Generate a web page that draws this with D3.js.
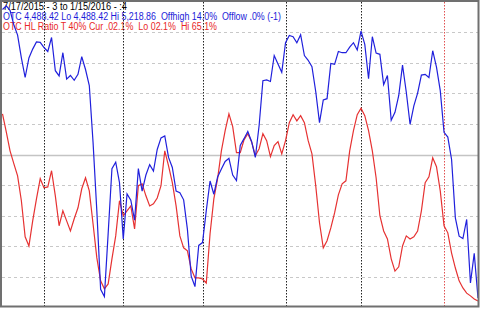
<!DOCTYPE html>
<html>
<head>
<meta charset="utf-8">
<script src="https://cdn.jsdelivr.net/npm/d3@7"></script>
<style>
  body { margin: 0; background: #fff; }
  svg { display: block; }
</style>
</head>
<body>
<div class="chart"></div>
<script>
// OTC close, one value per trading day, 7/17/2015 .. 1/15/2016
const otc = [
  5210, 5219, 5208, 5172, 5146, 5089, 5040, 5089, 5111, 5129,
  5128, 5115, 5105, 5140, 5057, 5044, 5102, 5036, 5045, 5033,
  5048, 5092, 5060, 5020, 4877, 4706, 4510, 4492, 4650, 4812,
  4828, 4777, 4636, 4749, 4733, 4683, 4812, 4756, 4796, 4822,
  4806, 4860, 4889, 4894, 4840, 4815, 4756, 4752, 4734, 4660,
  4543, 4517, 4620, 4627, 4707, 4781, 4748, 4791, 4811, 4830,
  4838, 4796, 4782, 4870, 4887, 4905, 4880, 4840, 4920, 5032,
  5034, 5030, 5095, 5074, 5053, 5127, 5145, 5142, 5127, 5147,
  5095, 5083, 5067, 5005, 4927, 4984, 4987, 5075, 5073, 5105,
  5102, 5102, 5116, 5127, 5109, 5156, 5123, 5037, 5142, 5101,
  5098, 5022, 5045, 4933, 4953, 4995, 5071, 5003, 4923, 4969,
  5001, 5046, 5048, 5040, 5107, 5066, 5007, 4903, 4891, 4835,
  4689, 4643, 4637, 4685, 4526, 4600, 4488.42
];

// HL ratio (%), same days
const hlRatio = [
  63.3, 57.4, 51.2, 47.0, 43.0, 34.9, 23.1, 20.1, 28.3, 35.5,
  42.1, 39.1, 39.4, 44.7, 36.5, 26.7, 31.6, 28.3, 25.0, 29.0,
  32.6, 38.8, 42.4, 38.1, 27.3, 16.2, 8.7, 6.1, 7.7, 15.9,
  23.4, 34.9, 30.0, 31.6, 33.2, 25.7, 39.8, 40.4, 36.5, 33.2,
  33.9, 35.8, 39.8, 51.2, 46.3, 40.8, 33.2, 23.4, 19.5, 18.5,
  12.6, 9.7, 9.7, 9.3, 8.0, 24.1, 35.5, 42.1, 51.2, 57.8,
  63.3, 59.1, 50.6, 50.6, 54.8, 56.8, 54.2, 49.6, 51.9, 56.8,
  54.5, 49.3, 52.9, 54.2, 50.2, 54.5, 60.4, 63.0, 61.0, 62.7,
  60.4, 54.5, 50.2, 39.8, 27.7, 19.5, 21.8, 26.0, 30.9, 36.8,
  40.4, 41.4, 51.2, 57.8, 63.0, 65.1, 62.7, 57.8, 51.2, 42.4,
  30.0, 25.0, 22.4, 15.9, 11.9, 13.3, 20.1, 23.4, 22.4, 23.1,
  25.0, 31.6, 40.8, 42.7, 48.9, 46.0, 38.1, 26.7, 24.4, 17.8,
  12.9, 8.7, 6.4, 4.7, 3.8, 2.8, 2.1
];

// first trading day of each month (index into the arrays)
const monthStarts = [11, 32, 53, 75, 95];
const yearStarts = [117];
const gridLevels = [10, 20, 30, 40, 50, 60, 70, 80, 90];

const titleLines = [
  "7/17/2015 - 3 to 1/15/2016 - :4",
  "OTC 4,488.42 Lo 4,488.42 Hi 5,218.86  Offhigh 14.0%  Offlow .0% (-1)",
  "OTC HL Ratio T 40% Cur .02.1%  Lo 02.1%  Hi 65.1%"
];
const titleColors = ["#000", "#1c1cd8", "#e82828"];
const titleWidths = [124, 278, 214];

const width = 481, height = 309;

const svg = d3.select(".chart")
  .append("svg")
  .attr("width", width)
  .attr("height", height);

const x = d3.scaleLinear()
  .domain([0, otc.length - 1])
  .range([2.5, 478]);

const yRatio = d3.scaleLinear()
  .domain([0, 100])
  .range([307.5, 1.5]);

const yOtc = d3.scaleLinear()
  .domain([4488.42, 5218.86])
  .range([298, 6]);

// horizontal grid
svg.append("g")
  .selectAll("line")
  .data(gridLevels)
  .join("line")
  .attr("x1", 2)
  .attr("x2", 478)
  .attr("y1", d => Math.round(yRatio(d)) + 0.5)
  .attr("y2", d => Math.round(yRatio(d)) + 0.5)
  .attr("stroke", d => d === 50 ? "#c4c4c4" : "#c8c8c8")
  .attr("stroke-width", d => d === 50 ? 1.5 : 1)
  .attr("stroke-dasharray", d => d === 50 ? null : "3,3");

// header text
svg.append("g")
  .selectAll("text")
  .data(titleLines)
  .join("text")
  .attr("x", 3)
  .attr("y", (d, i) => 10 + i * 10)
  .attr("fill", (d, i) => titleColors[i])
  .attr("font-family", "Liberation Sans, Arial, sans-serif")
  .attr("font-size", "10px")
  .attr("textLength", (d, i) => titleWidths[i])
  .attr("lengthAdjust", "spacingAndGlyphs")
  .style("white-space", "pre")
  .text(d => d);

// month / year separators
svg.append("g")
  .selectAll("line")
  .data(monthStarts)
  .join("line")
  .attr("x1", d => Math.round(x(d)) + 0.5)
  .attr("x2", d => Math.round(x(d)) + 0.5)
  .attr("y1", 2)
  .attr("y2", 306)
  .attr("stroke", "#222")
  .attr("stroke-dasharray", "1.5,1.5");

svg.append("g")
  .selectAll("line")
  .data(yearStarts)
  .join("line")
  .attr("x1", d => Math.round(x(d)) + 0.5)
  .attr("x2", d => Math.round(x(d)) + 0.5)
  .attr("y1", 2)
  .attr("y2", 306)
  .attr("stroke", "#e05050")
  .attr("stroke-dasharray", "1.5,1.5");

const ratioLine = d3.line()
  .x((d, i) => x(i))
  .y(d => yRatio(d));

const otcLine = d3.line()
  .x((d, i) => x(i))
  .y(d => yOtc(d));

svg.append("path")
  .datum(hlRatio)
  .attr("fill", "none")
  .attr("stroke", "#e63232")
  .attr("stroke-width", 1.2)
  .attr("d", ratioLine);

svg.append("path")
  .datum(otc)
  .attr("fill", "none")
  .attr("stroke", "#2020dc")
  .attr("stroke-width", 1.2)
  .attr("d", otcLine);

// frame
svg.append("rect")
  .attr("x", 1)
  .attr("y", 1)
  .attr("width", 477.5)
  .attr("height", 305.5)
  .attr("fill", "none")
  .attr("stroke", "#707070")
  .attr("stroke-width", 2);
</script>
</body>
</html>
